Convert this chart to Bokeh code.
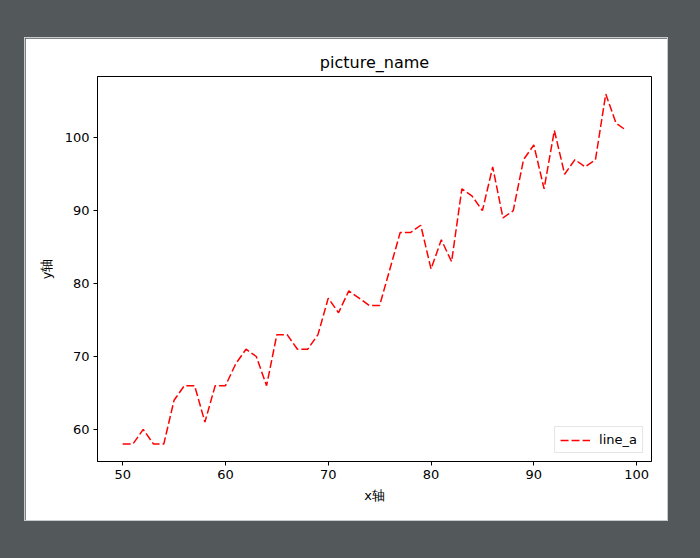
from bokeh.plotting import figure
from bokeh.models import FixedTicker, Range1d, Legend, LegendItem, GlobalInlineStyleSheet
from bokeh.embed import file_html
from bokeh.resources import INLINE

x_vals = list(range(50, 100))
line_a = [58, 58, 60, 58, 58, 64, 66, 66, 61, 66,
          66, 69, 71, 70, 66, 73, 73, 71, 71, 73,
          78, 76, 79, 78, 77, 77, 82, 87, 87, 88,
          82, 86, 83, 93, 92, 90, 96, 89, 90, 97,
          99, 93, 101, 95, 97, 96, 97, 106, 102, 101]
x_ticks = [50, 60, 70, 80, 90, 100]
y_ticks = [60, 70, 80, 90, 100]
title_text = "picture_name"
x_label = "x轴"
y_label = "y轴"
series_name = "line_a"

FONT = "DejaVu Sans"

sheet = GlobalInlineStyleSheet(css="html, body { background-color: #53585b; }")

p = figure(width=642, height=482, output_backend="svg", toolbar_location=None,
           x_range=Range1d(47.55, 101.45), y_range=Range1d(55.6, 108.4),
           min_border_left=72, min_border_right=16, min_border_top=38, min_border_bottom=59,
           background_fill_color="white", border_fill_color="white",
           stylesheets=[sheet], margin=(38, 0, 0, 25),
           styles={"outline": "1px solid #c9cccd"})

p.title.text = title_text
p.title.align = "center"
p.title.text_font = FONT
p.title.text_font_size = "16px"
p.title.text_font_style = "normal"
p.title.text_color = "black"
p.title.standoff = 9

p.grid.visible = False
p.outline_line_color = "black"
p.outline_line_alpha = 1
p.outline_line_width = 1

for ax in (p.xaxis[0], p.yaxis[0]):
    ax.axis_line_color = "black"
    ax.major_tick_line_color = "black"
    ax.major_tick_in = 0
    ax.major_tick_out = 4
    ax.minor_tick_line_color = None
    ax.major_label_text_font = FONT
    ax.major_label_text_font_size = "13px"
    ax.major_label_text_color = "black"
    ax.axis_label_text_font = FONT
    ax.axis_label_text_font_size = "13px"
    ax.axis_label_text_font_style = "normal"
    ax.axis_label_text_color = "black"

p.xaxis[0].ticker = FixedTicker(ticks=x_ticks)
p.yaxis[0].ticker = FixedTicker(ticks=y_ticks)
p.xaxis[0].axis_label = x_label
p.yaxis[0].axis_label = y_label
p.xaxis[0].major_label_standoff = 4
p.yaxis[0].major_label_standoff = 4
p.xaxis[0].axis_label_standoff = 6
p.yaxis[0].axis_label_standoff = 8

r = p.line(x_vals, line_a, line_color="red", line_width=1.5, line_dash="8 3")

legend = Legend(items=[LegendItem(label=series_name, renderers=[r])],
                location="bottom_right")
legend.label_text_font = FONT
legend.label_text_font_size = "13px"
legend.label_text_color = "black"
legend.border_line_color = "#cccccc"
legend.border_line_width = 1
legend.background_fill_alpha = 0.8
legend.margin = 8
legend.padding = 5
legend.spacing = 0
legend.glyph_width = 30
legend.glyph_height = 14
legend.label_standoff = 9
legend.label_height = 14
p.add_layout(legend)

open("out.html", "w").write(file_html(p, INLINE))
